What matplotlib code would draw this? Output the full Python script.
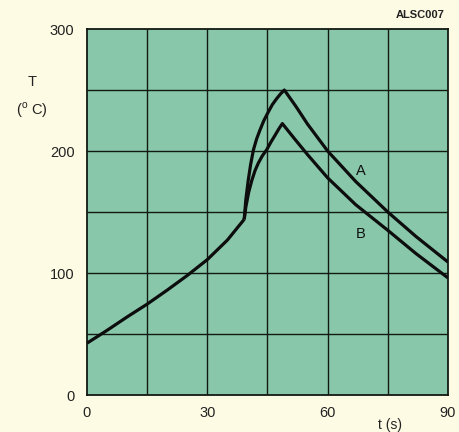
import matplotlib
matplotlib.use("Agg")
import matplotlib.pyplot as plt

# shared heating part
t_heat = [0, 5, 10, 15, 20, 25, 30, 35, 39.2]
T_heat = [42.5, 53, 64, 74.5, 86, 98, 111, 127, 144]

# curve A after the kink
t_a = [39.2, 39.6, 40.2, 40.8, 41.5, 42.3, 43.1, 44.1, 45.2, 46.2, 47.3, 48.3, 49.2,
       52, 55, 60, 67, 75, 82, 90]
T_a = [144, 160, 176, 189, 201, 210, 217, 225, 232, 238, 243, 247, 250,
       237, 222, 200, 175, 150, 130, 109]

# curve B after the kink
t_b = [39.2, 39.6, 40.3, 41.1, 41.9, 42.7, 43.7, 44.8, 45.8, 46.9, 47.8, 48.7,
       52, 55, 60, 67, 75, 82, 90]
T_b = [144, 154, 166, 176, 184, 190, 196, 201, 207, 213, 218, 222.5,
       209, 197, 178, 156, 135, 116, 96]

x_ticks = [0, 30, 60, 90]
y_ticks = [0, 100, 200, 300]

plt.rcParams["font.family"] = ["Liberation Sans", "DejaVu Sans"]
plt.rcParams["mathtext.fontset"] = "custom"
plt.rcParams["mathtext.rm"] = "Liberation Sans"

paper = "#fdfbe4"
fig = plt.figure(figsize=(4.59, 4.32), dpi=100, facecolor=paper)
ax = fig.add_axes([0.1895, 0.0856, 0.7865, 0.8472])
ax.set_facecolor("#88c7aa")

ax.set_xlim(0, 90)
ax.set_ylim(0, 300)

# grid every 15 s / 50 deg
for gx in range(15, 90, 15):
    ax.axvline(gx, color="#121a14", lw=1.0, zorder=1)
for gy in range(50, 300, 50):
    ax.axhline(gy, color="#121a14", lw=1.0, zorder=1)

for s in ax.spines.values():
    s.set_color("#121a14")
    s.set_linewidth(1.3)

line_kw = dict(color="#0d0d0d", lw=2.3, solid_capstyle="butt", solid_joinstyle="round", zorder=3)
ax.plot(t_heat, T_heat, **line_kw)
ax.plot(t_a, T_a, **line_kw)
ax.plot(t_b, T_b, **line_kw)

ax.text(68.2, 184, "A", fontsize=10.5, ha="center", va="center", color="#111111")
ax.text(68.2, 132, "B", fontsize=10.5, ha="center", va="center", color="#111111")

ax.set_xticks(x_ticks)
ax.set_yticks(y_ticks)
ax.tick_params(length=0, labelsize=10.5, colors="#222222", pad=8)
ax.tick_params(axis="y", pad=9)

fig.text(0.070, 0.810, "T", fontsize=10.5, ha="center", va="center", color="#222222")
fig.text(0.070, 0.745, r"($^{\rm o}$ C)", fontsize=10.5, ha="center", va="center", color="#222222")
fig.text(0.850, 0.017, "t (s)", fontsize=10, ha="center", va="center", color="#222222")
fig.text(0.915, 0.966, "ALSC007", fontsize=8, fontweight="bold", ha="center", va="center", color="#222222")

fig.savefig("out.png", dpi=100, facecolor=paper)
